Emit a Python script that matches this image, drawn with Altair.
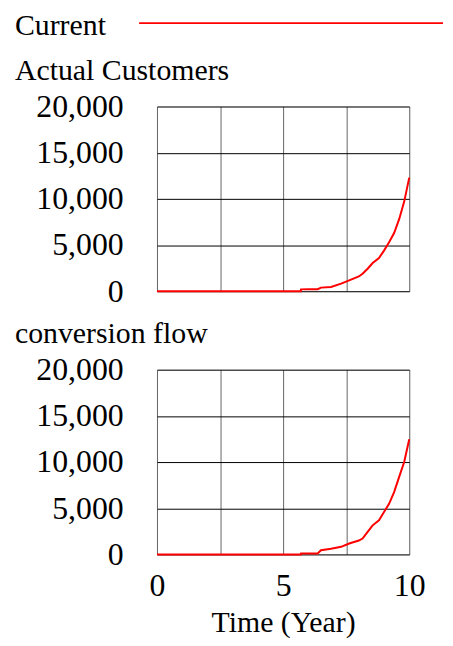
import altair as alt
import pandas as pd

# ---- data ----
time = [0, 5.7, 5.71, 6.0, 6.37, 6.5, 6.9, 7.3, 7.62, 8.0, 8.15, 8.35, 8.55, 8.8, 9.0, 9.2, 9.4, 9.6, 9.8, 10]
actual_customers = [0, 0, 200, 210, 215, 390, 460, 820, 1180, 1600, 1900, 2440, 3050, 3600, 4400, 5300, 6300, 7800, 9700, 12300]
conversion_flow = [0, 0, 100, 100, 110, 460, 610, 820, 1180, 1500, 1720, 2440, 3150, 3700, 4590, 5480, 6740, 8400, 10000, 12470]
panel_titles = ["Actual Customers", "conversion flow"]
series_name = "Current"
x_title = "Time (Year)"
x_ticks = [0, 2.5, 5, 7.5, 10]
y_ticks = [0, 5000, 10000, 15000, 20000]

FONT = "Liberation Serif"
RED = "#ff0000"
W, H = 254, 186


def panel(values, title, bottom=False, legend=False):
    df = pd.DataFrame({"Time": time, "Value": values, "Run": series_name})
    x_axis = alt.Axis(
        values=x_ticks,
        format="d",
        labelExpr="datum.value % 5 == 0 ? datum.label : ''",
        labels=bottom,
        labelFlush=False,
        title=x_title if bottom else None,
        ticks=False,
        domain=False,
        grid=True,
        gridColor="#666666",
        gridWidth=1,
        gridOpacity=1,
        labelFont=FONT,
        labelFontSize=32,
        labelColor="black",
        labelPadding=16,
        titleFont=FONT,
        titleFontSize=30,
        titleFontWeight="normal",
        titleColor="black",
        titlePadding=7,
    )
    y_axis = alt.Axis(
        values=y_ticks,
        format=",d",
        title=None,
        ticks=False,
        domain=False,
        grid=True,
        gridColor="#000000",
        gridWidth=1,
        gridOpacity=1,
        labelFont=FONT,
        labelFontSize=32,
        labelColor="black",
        labelPadding=34,
    )
    line = alt.Chart(df).mark_line(color=RED, strokeWidth=2).encode(
        x=alt.X("Time:Q", scale=alt.Scale(domain=[0, 10], nice=False, zero=False), axis=x_axis),
        y=alt.Y("Value:Q", scale=alt.Scale(domain=[0, 20000], nice=False), axis=y_axis),
    )
    tdf = pd.DataFrame({"label": [title]})
    title_text = alt.Chart(tdf).mark_text(
        align="left", baseline="alphabetic", font=FONT, fontSize=30, color="black"
    ).encode(x=alt.value(-143), y=alt.value(-27), text="label:N")
    layers = [line, title_text]
    if legend:
        ldf = pd.DataFrame({"label": [series_name]})
        legend_text = alt.Chart(ldf).mark_text(
            align="left", baseline="alphabetic", font=FONT, fontSize=30, color="black"
        ).encode(x=alt.value(-143), y=alt.value(-72), text="label:N")
        legend_rule = alt.Chart(ldf).mark_rule(color=RED, strokeWidth=1.8).encode(
            x=alt.value(-18), x2=alt.value(288), y=alt.value(-84)
        )
        layers += [legend_text, legend_rule]
    return alt.layer(*layers).properties(width=W, height=H)


p1 = panel(actual_customers, panel_titles[0], bottom=False, legend=True)
p2 = panel(conversion_flow, panel_titles[1], bottom=True)

chart = (
    alt.vconcat(p1, p2, spacing=79, bounds="flush")
    .properties(padding={"left": 6, "top": 0, "right": 0, "bottom": 0})
    .configure_view(stroke="black", strokeWidth=2)
    .configure(background="white")
)

chart.save("out.html", embed_options={"renderer": "svg", "actions": False})
